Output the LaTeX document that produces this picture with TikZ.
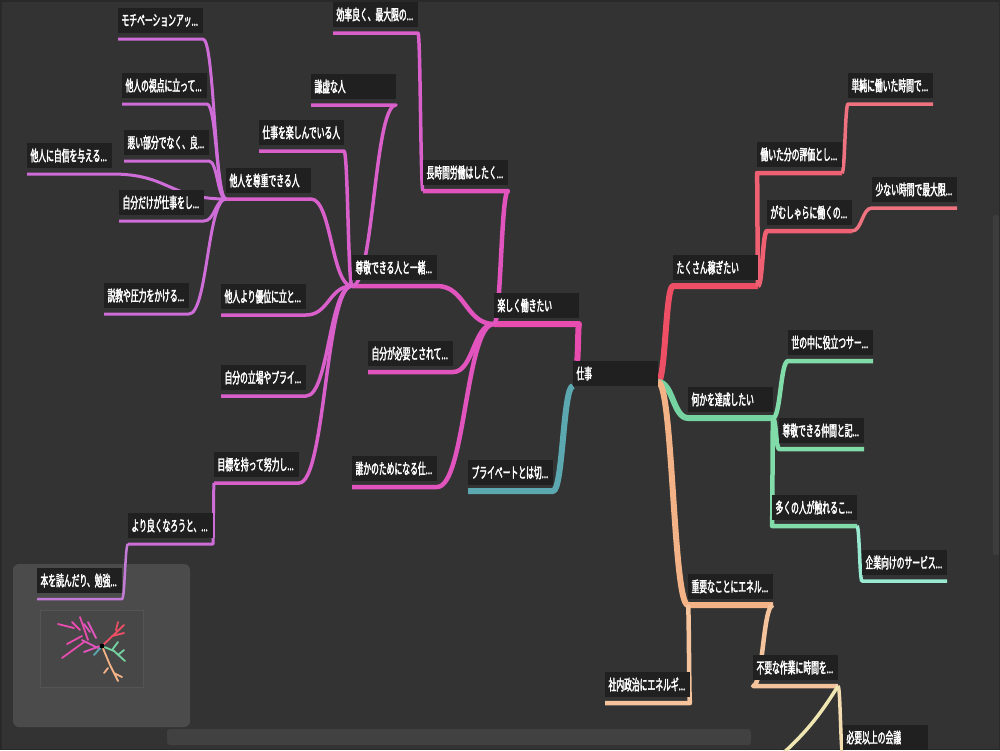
\documentclass[tikz,border=0pt]{standalone}
\usepackage{fontspec}
\usetikzlibrary{calc,positioning}
\newfontfamily\jpfont{Noto Sans CJK JP}[FakeStretch=0.52,FakeBold=2]
\definecolor{bgc}{HTML}{333333}
\definecolor{boxc}{HTML}{202020}
\definecolor{pkA}{HTML}{E84CAE}
\definecolor{pkB}{HTML}{E154BD}
\definecolor{pkC}{HTML}{D95FCB}
\definecolor{pkD}{HTML}{CF6DD8}
\definecolor{pkE}{HTML}{C47BD6}
\definecolor{rdA}{HTML}{EF4F64}
\definecolor{rdB}{HTML}{EE6072}
\definecolor{rdC}{HTML}{EF7280}
\definecolor{gnA}{HTML}{74D3A0}
\definecolor{gnB}{HTML}{82DCAA}
\definecolor{gnC}{HTML}{98EAD0}
\definecolor{orA}{HTML}{F3B386}
\definecolor{orB}{HTML}{F5C49C}
\definecolor{orC}{HTML}{F2DCB0}
\definecolor{orD}{HTML}{EFE6B2}
\definecolor{tl}{HTML}{5BA8B0}
\pgfdeclarelayer{back}
\pgfdeclarelayer{lines}
\pgfsetlayers{back,lines,main}

\begin{document}
\begin{tikzpicture}[x=1pt,y=-1pt,
    topic/.style={fill=boxc,text=white,font=\jpfont\fontsize{15}{16}\selectfont,anchor=west,
      text width=78pt,inner xsep=3.5pt,inner ysep=0pt,minimum height=25pt,align=left,
      outer xsep=0pt,outer ysep=6pt},
    conn/.style={to path={let \p1=(\tikztostart),\p2=(\tikztotarget) in
      .. controls ({0.5*\x1+0.5*\x2},\y1) and ({0.5*\x1+0.5*\x2},\y2) .. (\tikztotarget)}},
    lv1/.style={line width=6pt,line join=round},
    lv2/.style={line width=4.5pt,line join=round},
    lv3/.style={line width=3.5pt,line join=round},
    lv4/.style={line width=3pt,line join=round},
    lv5/.style={line width=2.5pt,line join=round},
    mini/.style={line width=1.8pt,line cap=round}]
\useasboundingbox (0,0) rectangle (1000,750);

\begin{pgfonlayer}{back}
\fill[bgc] (0,0) rectangle (1000,750);
\draw[line width=1.5pt,color=black!20!bgc] (0.75,0.75) rectangle (999.25,749.25);
\fill[white!7!bgc,rounded corners=3pt] (167,729) rectangle (751,745);
\fill[white!5!bgc,rounded corners=2pt] (993,215) rectangle (999,555);
\fill[white!12!bgc,rounded corners=6pt] (13,564) rectangle (190,727);
\draw[white!16!bgc,fill=white!10!bgc] (40,610) rectangle (143,687);
\draw[pkA,mini] (58,624) -- (74,628) (62,658) -- (84,642) (80,617) -- (88,640) (72,622) -- (80,630) (67,644) -- (82,636);
\draw[pkB,mini] (82,640) -- (98,648) (88,622) -- (96,638) (84,652) -- (100,646) (90,632) -- (84,624);
\draw[rdA,mini] (102,646) -- (124,625) (112,636) -- (124,633) (116,630) -- (118,622);
\draw[tl,mini] (102,646) -- (94,655);
\draw[gnA,mini] (102,646) -- (114,651) -- (125,661) (112,650) -- (118,642) (118,655) -- (124,650);
\draw[orA,mini] (102,646) -- (110,665) -- (118,681) (108,668) -- (104,673) (114,673) -- (122,677);
\fill[black] (102,646) circle (2.5);
\end{pgfonlayer}

\node[topic] (root) at (573,373.5) [outer ysep=0pt] {仕事};
\node[topic] (tanoshiku) at (494,305.5) {楽しく働きたい};
\node[topic] (sonkei) at (352,267.5) {尊敬できる人と一緒...};
\node[topic] (choujikan) at (423,172.5) {長時間労働はしたく...};
\node[topic] (kouritsu) at (333,14.5) {効率良く、最大限の...};
\node[topic] (hitsuyou) at (368,353.5) {自分が必要とされて...};
\node[topic] (dareka) at (352,468.5) {誰かのためになる仕...};
\node[topic] (private) at (468,472.5) {プライベートとは切...};
\node[topic] (tanin) at (226,180.5) {他人を尊重できる人};
\node[topic] (tanoshimu) at (259,132.5) {仕事を楽しんでいる人};
\node[topic] (kenkyo) at (311,86.5) {謙虚な人};
\node[topic] (yuui) at (221,296.5) {他人より優位に立と...};
\node[topic] (tachiba) at (221,377.5) {自分の立場やプライ...};
\node[topic] (mokuhyou) at (214,464.5) {目標を持って努力し...};
\node[topic] (yoriyoku) at (128,525.5) {より良くなろうと、...};
\node[topic] (hon) at (37,580.5) {本を読んだり、勉強...};
\node[topic] (motivation) at (118,20.5) {モチベーションアッ...};
\node[topic] (shiten) at (122,85.5) {他人の視点に立って...};
\node[topic] (warui) at (124,142.5) {悪い部分でなく、良...};
\node[topic] (jishin) at (27,155.5) {他人に自信を与える...};
\node[topic] (jibun) at (119,202.5) {自分だけが仕事をし...};
\node[topic] (sekkyou) at (104,295.5) {説教や圧力をかける...};
\node[topic] (kasegi) at (673,267.5) {たくさん稼ぎたい};
\node[topic] (hyouka) at (757,154.5) {働いた分の評価とし...};
\node[topic] (tanjun) at (848,85.5) {単純に働いた時間で...};
\node[topic] (gamushara) at (767,212.5) {がむしゃらに働くの...};
\node[topic] (sukunai) at (872,189.5) {少ない時間で最大限...};
\node[topic] (tassei) at (688,399.5) {何かを達成したい};
\node[topic] (yononaka) at (788,342.5) {世の中に役立つサー...};
\node[topic] (nakama) at (779,430.5) {尊敬できる仲間と記...};
\node[topic] (ooku) at (772,507.5) {多くの人が触れるこ...};
\node[topic] (kigyou) at (862,562.5) {企業向けのサービス...};
\node[topic] (juuyou) at (688,586.5) {重要なことにエネル...};
\node[topic] (seiji) at (605,684.5) {社内政治にエネルギ...};
\node[topic] (fuyou) at (753,667.5) {不要な作業に時間を...};
\node[topic] (kaigi) at (843,737.5) {必要以上の会議};
\coordinate (rootr) at ([yshift=4pt]root.south east);
\coordinate (offtopic) at (778,758);

\begin{pgfonlayer}{lines}
\draw[lv1,pkA] (tanoshiku.south west) -- (tanoshiku.south east) to[conn] ([xshift=4pt]root.north west);
\draw[lv2,pkB] (sonkei.south west) -- (sonkei.south east) to[conn] (tanoshiku.south west);
\draw[lv2,pkB] (choujikan.south west) -- (choujikan.south east) to[conn] (tanoshiku.south west);
\draw[lv2,pkB] (hitsuyou.south west) -- (hitsuyou.south east) to[conn] (tanoshiku.south west);
\draw[lv2,pkB] (dareka.south west) -- (dareka.south east) to[conn] (tanoshiku.south west);
\draw[lv3,pkC] (kouritsu.south west) -- (kouritsu.south east) to[conn] (choujikan.south west);
\draw[lv3,pkC] (tanin.south west) -- (tanin.south east) to[conn] (sonkei.south west);
\draw[lv3,pkC] (tanoshimu.south west) -- (tanoshimu.south east) to[conn] (sonkei.south west);
\draw[lv3,pkC] (kenkyo.south west) -- (kenkyo.south east) to[conn] (sonkei.south west);
\draw[lv3,pkC] (yuui.south west) -- (yuui.south east) to[conn] (sonkei.south west);
\draw[lv3,pkC] (tachiba.south west) -- (tachiba.south east) to[conn] (sonkei.south west);
\draw[lv3,pkC] (mokuhyou.south west) -- (mokuhyou.south east) to[conn] (sonkei.south west);
\draw[lv4,pkD] (motivation.south west) -- (motivation.south east) to[conn] (tanin.south west);
\draw[lv4,pkD] (shiten.south west) -- (shiten.south east) to[conn] (tanin.south west);
\draw[lv4,pkD] (warui.south west) -- (warui.south east) to[conn] (tanin.south west);
\draw[lv4,pkD] (jishin.south west) -- (jishin.south east) to[conn] (tanin.south west);
\draw[lv4,pkD] (jibun.south west) -- (jibun.south east) to[conn] (tanin.south west);
\draw[lv4,pkD] (sekkyou.south west) -- (sekkyou.south east) to[conn] (tanin.south west);
\draw[lv4,pkD] (yoriyoku.south west) -- (yoriyoku.south east) to[conn] (mokuhyou.south west);
\draw[lv5,pkE] (hon.south west) -- (hon.south east) to[conn] (yoriyoku.south west);
\draw[lv1,tl] (private.south west) -- (private.south east) to[conn] (root.south west);
\draw[lv1,rdA] (rootr) to[conn] (kasegi.south west) -- (kasegi.south east);
\draw[lv2,rdB] (kasegi.south east) to[conn] (hyouka.south west) -- (hyouka.south east);
\draw[lv2,rdB] (kasegi.south east) to[conn] (gamushara.south west) -- (gamushara.south east);
\draw[lv3,rdC] (hyouka.south east) to[conn] (tanjun.south west) -- (tanjun.south east);
\draw[lv3,rdC] (gamushara.south east) to[conn] (sukunai.south west) -- (sukunai.south east);
\draw[lv1,gnA] (rootr) to[conn] (tassei.south west) -- (tassei.south east);
\draw[lv2,gnB] (tassei.south east) to[conn] (yononaka.south west) -- (yononaka.south east);
\draw[lv2,gnB] (tassei.south east) to[conn] (nakama.south west) -- (nakama.south east);
\draw[lv2,gnB] (tassei.south east) to[conn] (ooku.south west) -- (ooku.south east);
\draw[lv3,gnC] (ooku.south east) to[conn] (kigyou.south west) -- (kigyou.south east);
\draw[lv1,orA] (rootr) to[conn] (juuyou.south west) -- (juuyou.south east);
\draw[lv2,orB] (seiji.south west) -- (seiji.south east) to[conn] (juuyou.south west);
\draw[lv2,orB] (juuyou.south east) to[conn] (fuyou.south west) -- (fuyou.south east);
\draw[lv3,orC] (fuyou.south east) to[conn] (kaigi.south west);
\draw[lv3,orD] (fuyou.south east) to[bend left=8] (offtopic);
\end{pgfonlayer}
\end{tikzpicture}
\end{document}
